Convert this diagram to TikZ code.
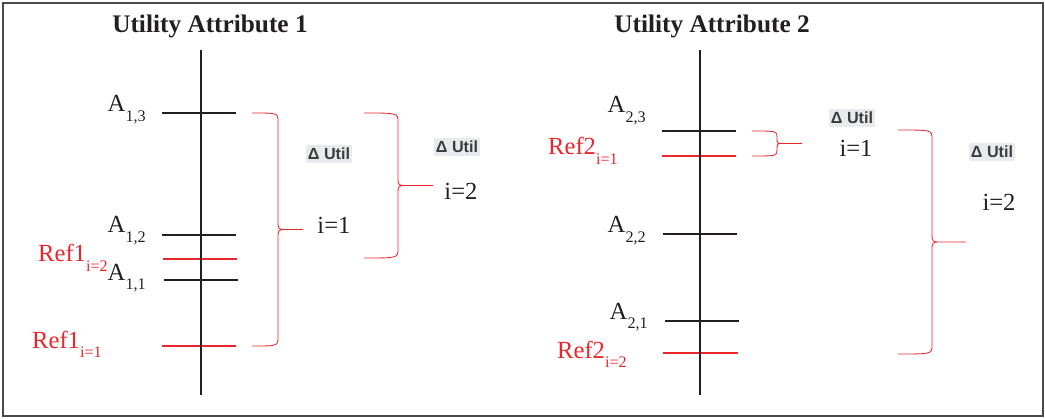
\documentclass[tikz,border=0pt]{standalone}
\usepackage{fontspec}
\setmainfont{Liberation Serif}
\newfontfamily\utilfont{Liberation Sans}
\definecolor{UaRed}{HTML}{E8262B}
\definecolor{UaInk}{HTML}{231F20}
\definecolor{UaFrame}{HTML}{4A4A4A}
\definecolor{UaTagFill}{HTML}{E8EAED}
\definecolor{UaTagText}{HTML}{3C3C3C}

% label with a lowered index
\newcommand{\ualabel}[2]{#1\raisebox{-6.5pt}{\fontsize{11.5}{12}\selectfont #2}}
% brace: end x, top y, bottom y, spine x, tip x
\newcommand{\uabrace}[5]{%
  \pgfmathsetmacro\uaMid{(#2+#3)/2}%
  \pgfmathsetmacro\uaRad{min(9,(#3-#2)/4)}%
  \draw[bracepen] (#1,#2) .. controls (#4,#2) .. (#4,#2+\uaRad)
    -- (#4,\uaMid-\uaRad) .. controls (#4,\uaMid) .. (#4+\uaRad,\uaMid) -- (#5,\uaMid)
    (#4+\uaRad,\uaMid) .. controls (#4,\uaMid) .. (#4,\uaMid+\uaRad)
    -- (#4,#3-\uaRad) .. controls (#4,#3) .. (#1,#3);}

\begin{document}
\begin{tikzpicture}[x=0.025cm,y=-0.025cm,
  axis/.style={draw=UaInk,line width=1.4pt},
  tick/.style={draw=UaInk,line width=1.4pt},
  reftick/.style={draw=UaRed,line width=1.4pt},
  bracepen/.style={draw=UaRed,line width=0.6pt},
  title/.style={font=\fontsize{18}{20}\selectfont\bfseries,text=UaInk,inner sep=0pt,anchor=base},
  lbl/.style={font=\fontsize{17.5}{20}\selectfont,text=UaInk,inner sep=0pt,anchor=base east},
  reflbl/.style={lbl,text=UaRed},
  idx/.style={font=\fontsize{17.5}{20}\selectfont,text=UaInk,inner sep=0pt,anchor=base},
  deltatag/.style={font=\utilfont\fontsize{11.5}{13}\selectfont\bfseries,text=UaTagText,fill=UaTagFill,inner xsep=1.5pt,inner ysep=2.5pt}
]
\useasboundingbox (0,0) rectangle (1045,419);
\draw[UaFrame,line width=1pt] (3,3) rectangle (1043,416);

% attribute 1
\node[title] (title1) at (210,33) {Utility Attribute 1};
\draw[tick] (162,113) -- (236,113);
\draw[tick] (162,235) -- (236,235);
\draw[reftick] (163,259) -- (237,259);
\draw[tick] (164,280) -- (238,280);
\draw[reftick] (162,346) -- (236,346);
\draw[axis] (201,50) -- (201,395);
\node[lbl] (a13) at (146,112) {\ualabel{A}{1,3}};
\node[lbl] (a12) at (146,233) {\ualabel{A}{1,2}};
\node[reflbl] (ref1b) at (108,262) {\ualabel{Ref1}{i=2}};
\node[lbl] (a11) at (146,280) {\ualabel{A}{1,1}};
\node[reflbl] (ref1a) at (102,348) {\ualabel{Ref1}{i=1}};
\uabrace{252}{113}{346}{278}{303}
\uabrace{364}{113}{258}{398}{433}
\node[deltatag] (du11) at (329,154) {Δ Util};
\node[idx] (i11) at (334,234) {i=1};
\node[deltatag] (du12) at (457,147) {Δ Util};
\node[idx] (i12) at (461,200) {i=2};

% attribute 2
\node[title] (title2) at (712,33) {Utility Attribute 2};
\draw[tick] (662,131) -- (736,131);
\draw[reftick] (662,156) -- (736,156);
\draw[tick] (663,234) -- (737,234);
\draw[tick] (665,321) -- (739,321);
\draw[reftick] (663,353) -- (738,353);
\draw[axis] (700,50) -- (700,395);
\node[lbl] (a23) at (646,113) {\ualabel{A}{2,3}};
\node[reflbl] (ref2a) at (618,155) {\ualabel{Ref2}{i=1}};
\node[lbl] (a22) at (646,233) {\ualabel{A}{2,2}};
\node[lbl] (a21) at (648,319) {\ualabel{A}{2,1}};
\node[reflbl] (ref2b) at (627,358) {\ualabel{Ref2}{i=2}};
\uabrace{752}{131}{156}{777}{802}
\uabrace{898}{130}{354}{932}{966}
\node[deltatag] (du21) at (852,118) {Δ Util};
\node[idx] (i21) at (856,157) {i=1};
\node[deltatag] (du22) at (992,152) {Δ Util};
\node[idx] (i22) at (999,211) {i=2};
\end{tikzpicture}
\end{document}
